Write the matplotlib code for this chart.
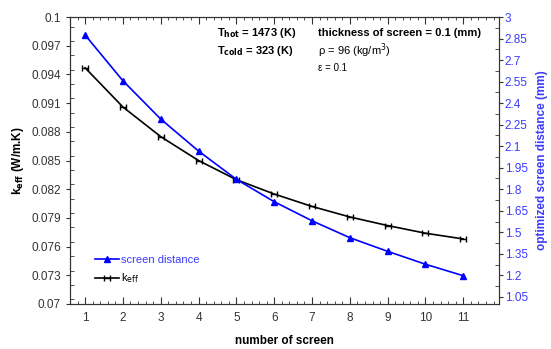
import numpy as np
import matplotlib
matplotlib.use("Agg")
import matplotlib.pyplot as plt
from matplotlib.path import Path
from matplotlib.ticker import MultipleLocator

plt.rcParams['font.family'] = ['Liberation Sans', 'DejaVu Sans']

# data
screens = [1, 2, 3, 4, 5, 6, 7, 8, 9, 10, 11]
k_eff = [0.0947, 0.0906, 0.0875, 0.0850, 0.0830, 0.0815, 0.0802, 0.0791, 0.0782, 0.0774, 0.0768]
distance = [2.875, 2.556, 2.289, 2.066, 1.869, 1.713, 1.580, 1.462, 1.367, 1.277, 1.197]

left_ticks = [0.07, 0.073, 0.076, 0.079, 0.082, 0.085, 0.088, 0.091, 0.094, 0.097, 0.1]
right_ticks = [1.05, 1.2, 1.35, 1.5, 1.65, 1.8, 1.95, 2.1, 2.25, 2.4, 2.55, 2.7, 2.85, 3]

blue = '#0000ff'
label_blue = '#3b3bff'
gray = '#333333'

# marker: small bar with end caps
cap = Path([(-1, -1), (-1, 1), (1, -1), (1, 1), (-1, 0), (1, 0)],
           [Path.MOVETO, Path.LINETO, Path.MOVETO, Path.LINETO, Path.MOVETO, Path.LINETO])

fig = plt.figure(figsize=(5.51, 3.49), dpi=100)
ax = fig.add_axes([0.127, 0.129, 0.779, 0.822])
ax2 = ax.twinx()

l1, = ax.plot(screens, k_eff, color='black', lw=1.2, marker=cap, ms=5, mew=1.0)
l2, = ax2.plot(screens, distance, color=blue, lw=1.2, marker='^', ms=4.5)

ax.set_xlim(0.6, 11.95)
ax.set_ylim(0.07, 0.1)
ax2.set_ylim(1.0, 3.0)

ax.set_xticks(screens)
ax.xaxis.set_minor_locator(MultipleLocator(0.2))
ax.set_yticks(left_ticks)
ax.set_yticklabels([f'{v:g}' for v in left_ticks])
ax.yaxis.set_minor_locator(MultipleLocator(0.0015))
ax2.set_yticks(right_ticks)
ax2.set_yticklabels([f'{v:g}' for v in right_ticks])
ax2.yaxis.set_minor_locator(MultipleLocator(0.075))
ax2.set_ylim(1.0, 3.0)

ax.tick_params(axis='x', which='both', direction='in', top=True, labelsize=8.5,
               colors=gray, pad=6)
ax.tick_params(axis='x', which='major', length=5)
ax.tick_params(axis='x', which='minor', length=2.5)
ax.tick_params(axis='y', which='major', direction='out', length=3, labelsize=8.5, colors=gray)
ax.tick_params(axis='y', which='minor', direction='in', length=3, colors=gray)
ax2.tick_params(axis='y', which='major', direction='out', length=3, labelsize=8.5,
                colors=gray, labelcolor=label_blue, pad=1)
ax2.tick_params(axis='y', which='minor', direction='in', length=3, colors=gray)

for a in (ax, ax2):
    for s in a.spines.values():
        s.set_color(gray)
        s.set_linewidth(0.8)

ax.set_xlabel('number of screen', fontsize=8.5, fontweight='bold', labelpad=8)
ax.set_ylabel(r'k$_{\mathbf{eff}}$ (W/m.K)', fontsize=8.5, fontweight='bold', labelpad=4)
ax2.set_ylabel('optimized screen distance (mm)', fontsize=8.5, fontweight='bold',
               color=label_blue, labelpad=6)

ax.text(0.343, 0.944, r'T$_{\mathbf{hot}}$ = 1473 (K)', transform=ax.transAxes,
        fontsize=8, fontweight='bold', va='center')
ax.text(0.343, 0.882, r'T$_{\mathbf{cold}}$ = 323 (K)', transform=ax.transAxes,
        fontsize=8, fontweight='bold', va='center')
ax.text(0.578, 0.944, 'thickness of screen = 0.1 (mm)', transform=ax.transAxes,
        fontsize=8, fontweight='bold', va='center')
ax.text(0.578, 0.882, r'ρ = 96 (kg/m$^3$)', transform=ax.transAxes,
        fontsize=8, va='center')
ax.text(0.578, 0.822, 'ε = 0.1', transform=ax.transAxes, fontsize=7, va='center')

leg = ax.legend([l2, l1], ['screen distance', r'k$_{\mathrm{eff}}$'], loc='lower left',
                bbox_to_anchor=(0.035, 0.03), frameon=False, fontsize=8,
                handlelength=2.2, handletextpad=0.1, labelspacing=0.6)
leg.get_texts()[0].set_color(label_blue)

fig.savefig('out.png', dpi=100)
